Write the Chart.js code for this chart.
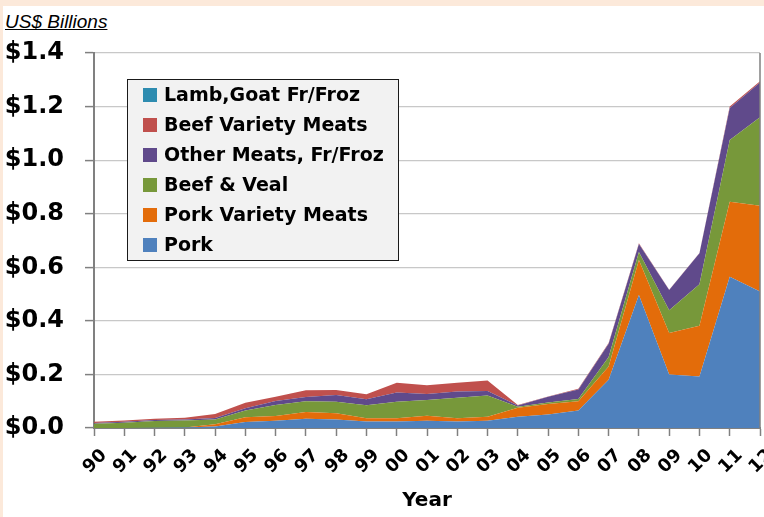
<!DOCTYPE html>
<html>
<head>
<meta charset="utf-8">
<script src="https://cdn.jsdelivr.net/npm/chart.js@4.4.1/dist/chart.umd.min.js"></script>
<style>
  html, body { margin: 0; padding: 0; }
  body { width: 764px; height: 517px; background: #fce9da; position: relative; overflow: hidden; }
  #panel { position: absolute; left: 3px; top: 6px; right: 0; bottom: 0; background: #ffffff; }
  #unit { position: absolute; left: 5px; top: 11px; font: italic 19px "Liberation Sans", Arial, sans-serif; text-decoration: underline; color: #000; }
  #wrap { position: absolute; left: 0; top: 0; width: 764px; height: 517px; }
</style>
</head>
<body>
<div id="panel"></div>
<div id="unit">US$ Billions</div>
<div id="wrap"><canvas id="c" width="764" height="517"></canvas></div>
<script>
// ---- data (US$ billions) ----
const years = ['90','91','92','93','94','95','96','97','98','99','00','01','02','03','04','05','06','07','08','09','10','11','12'];
const pork       = [0, 0, 0.001, 0.002, 0.006, 0.022, 0.027, 0.035, 0.032, 0.024, 0.024, 0.027, 0.024, 0.027, 0.042, 0.050, 0.065, 0.180, 0.497, 0.200, 0.192, 0.565, 0.510];
const porkVariety = [0, 0, 0, 0, 0.008, 0.018, 0.018, 0.025, 0.023, 0.012, 0.012, 0.019, 0.012, 0.015, 0.034, 0.040, 0.035, 0.050, 0.130, 0.155, 0.190, 0.280, 0.320];
const beefVeal   = [0.016, 0.020, 0.025, 0.026, 0.018, 0.025, 0.041, 0.040, 0.043, 0.049, 0.062, 0.059, 0.077, 0.079, 0.003, 0.005, 0.008, 0.035, 0.030, 0.085, 0.155, 0.230, 0.330];
const otherMeats = [0.003, 0.003, 0.004, 0.004, 0.005, 0.009, 0.015, 0.016, 0.025, 0.022, 0.035, 0.022, 0.023, 0.017, 0.005, 0.022, 0.036, 0.050, 0.030, 0.075, 0.115, 0.120, 0.130];
const beefVariety = [0.004, 0.005, 0.005, 0.006, 0.015, 0.020, 0.016, 0.025, 0.019, 0.019, 0.036, 0.033, 0.033, 0.039, 0.002, 0.001, 0.003, 0.002, 0.003, 0.001, 0.001, 0.005, 0.005];
const lambGoat   = [0, 0, 0, 0, 0, 0, 0, 0, 0, 0, 0, 0, 0, 0, 0, 0, 0, 0, 0, 0, 0, 0, 0];
const seriesNames = ['Pork', 'Pork Variety Meats', 'Beef & Veal', 'Other Meats, Fr/Froz', 'Beef Variety Meats', 'Lamb,Goat Fr/Froz'];
const seriesColors = ['#4f81bd', '#e36c0a', '#77983a', '#604a8b', '#c0504d', '#2e8cb0'];
const yTickLabels = ['$0.0', '$0.2', '$0.4', '$0.6', '$0.8', '$1.0', '$1.2', '$1.4'];

const seriesData = [pork, porkVariety, beefVeal, otherMeats, beefVariety, lambGoat];
const datasets = seriesData.map((d, i) => ({
  label: seriesNames[i],
  data: d,
  backgroundColor: seriesColors[i],
  borderColor: seriesColors[i],
  borderWidth: 0,
  pointRadius: 0,
  tension: 0,
  fill: i === 0 ? 'origin' : '-1'
}));

const legendBox = {
  id: 'legendBox',
  afterDatasetsDraw(chart) {
    const ctx = chart.ctx;
    const x0 = 127.5, y0 = 79.5, w = 271, h = 181;
    ctx.save();
    ctx.fillStyle = '#f2f2f2';
    ctx.fillRect(x0, y0, w, h);
    ctx.strokeStyle = '#1a1a1a';
    ctx.lineWidth = 1;
    ctx.strokeRect(x0, y0, w, h);
    ctx.font = 'bold 19px "DejaVu Sans", sans-serif';
    ctx.textBaseline = 'middle';
    const ds = chart.data.datasets.slice().reverse();
    ds.forEach((d, k) => {
      const cy = 95 + k * 30;
      ctx.fillStyle = d.backgroundColor;
      ctx.fillRect(143, cy - 7, 14, 14);
      ctx.fillStyle = '#000';
      ctx.fillText(d.label, 164, cy + 1);
    });
    ctx.restore();
  }
};

const plotBorder = {
  id: 'plotBorder',
  afterDatasetsDraw(chart) {
    const a = chart.chartArea, ctx = chart.ctx;
    ctx.save();
    ctx.strokeStyle = '#808080';
    ctx.lineWidth = 1.5;
    ctx.beginPath();
    ctx.moveTo(a.right, a.top);
    ctx.lineTo(a.right, a.bottom);
    ctx.stroke();
    ctx.restore();
  }
};

new Chart(document.getElementById('c'), {
  type: 'line',
  data: { labels: years, datasets },
  options: {
    responsive: false,
    animation: false,
    layout: { padding: { top: 53, left: 0, right: 4, bottom: 0 } },
    plugins: { legend: { display: false }, tooltip: { enabled: false } },
    scales: {
      x: {
        offset: false,
        grid: { drawOnChartArea: false, drawTicks: true, tickLength: 8, tickColor: '#808080', tickWidth: 1.5 },
        border: { color: '#808080', width: 2 },
        ticks: {
          autoSkip: false, minRotation: 45, maxRotation: 45,
          font: { family: '"DejaVu Sans", sans-serif', weight: 'bold', size: 18 },
          color: '#000', padding: 9, labelOffset: 10
        },
        title: {
          display: true, text: 'Year', color: '#000',
          font: { family: '"DejaVu Sans", sans-serif', weight: 'bold', size: 20 },
          padding: { top: 0, bottom: 4 }
        },
        afterFit(s) { s.height = 89; s.paddingLeft = 0; s.paddingRight = 0; }
      },
      y: {
        stacked: true,
        min: 0, max: 1.4,
        grid: { color: '#c8c8c8', lineWidth: 1.2, tickLength: 9, tickColor: '#808080', tickWidth: 1.5 },
        border: { color: '#808080', width: 2 },
        ticks: {
          stepSize: 0.2,
          callback: (v, i) => yTickLabels[i],
          font: { family: '"DejaVu Sans", sans-serif', weight: 'bold', size: 24 },
          color: '#000', padding: 21
        },
        afterFit(s) { s.width = 94; s.paddingTop = 0; s.paddingBottom = 0; }
      }
    }
  },
  plugins: [legendBox, plotBorder]
});
</script>
</body>
</html>
